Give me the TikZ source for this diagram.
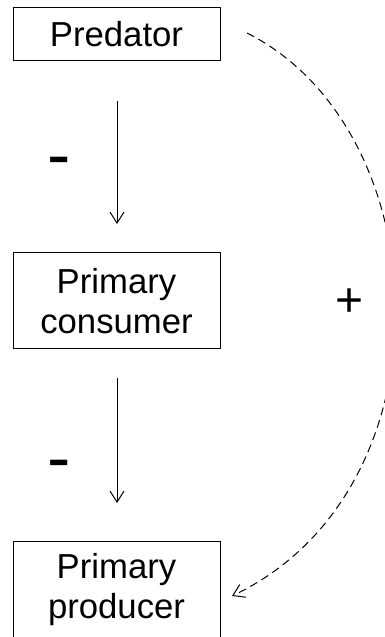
\documentclass[tikz,border=0pt]{standalone}
\usepackage{fontspec}
\setmainfont{Liberation Sans}
\usetikzlibrary{arrows.meta}
\begin{document}
\begin{tikzpicture}[x=1pt,y=1pt,
  box/.style={draw,line width=1pt,minimum width=207pt,inner sep=0pt,align=center,
    font=\fontsize{34.7}{40}\selectfont},
  flow/.style={line width=1pt,-{Straight Barb[length=11pt,width=14pt,line width=1pt]}},
  feedback/.style={line width=1pt,dash pattern=on 8pt off 5pt,-{Straight Barb[length=11pt,width=14pt,line width=1pt]}},
  sign/.style={inner sep=0pt}]
\useasboundingbox (0,0) rectangle (385,637);
\clip (0,0) rectangle (385,637);
\fill[white] (0,0) rectangle (385,637);
\node[box,minimum height=53pt] (pred) at (116.5,602.5) {Predator};
\node[box,minimum height=96pt] (cons) at (116.5,336) {Primary\\consumer};
\node[box,minimum height=96pt] (prod) at (116.5,47) {Primary\\producer};
\coordinate (a1s) at (117,536);
\coordinate (a1e) at (117,413);
\coordinate (a2s) at (117,259);
\coordinate (a2e) at (117,134);
\draw[flow] (a1s) -- (a1e);
\draw[flow] (a2s) -- (a2e);
\node[sign,font=\fontsize{70}{70}\selectfont] (m1) at (59,469) {-};
\node[sign,font=\fontsize{70}{70}\selectfont] (m2) at (59,166) {-};
\node[sign,font=\fontsize{48}{48}\selectfont] (plus) at (350,334) {+};
\coordinate (fs) at (247,604);
\coordinate (fe) at (232,41);
\draw[feedback] (fs) .. controls (440,507) and (455,147) .. (fe);
\end{tikzpicture}
\end{document}
